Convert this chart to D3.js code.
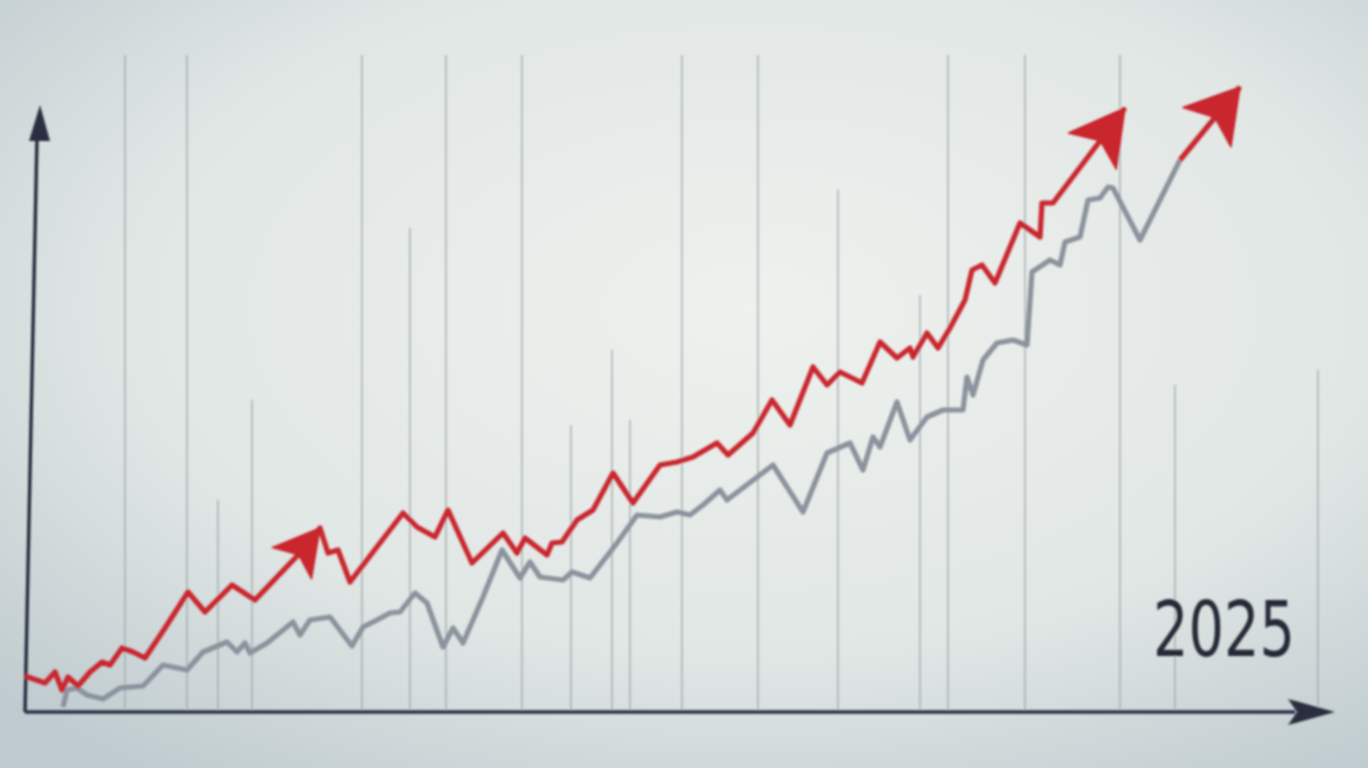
<!DOCTYPE html>
<html><head><meta charset="utf-8">
<script src="https://cdn.jsdelivr.net/npm/d3@7/dist/d3.min.js"></script>
<style>html,body{margin:0;padding:0;overflow:hidden;background:#dfe5e3}</style>
</head><body><svg id="c" width="1368" height="768"></svg>
<script>
// ---- data (x: time units, y: value units) ----
const redX = [0,2,3,3.7,4.3,5.3,6.5,7.7,8.5,9.7,10.8,12,14,16.3,18,20.7,23,27.5,29.5,
  30.3,31.3,32.5,37.8,39.2,41,42.3,44.7,47.8,49.2,50,52.2,52.7,53.7,55.2,56.8,58.8,60.8,63.5,65.2,66.8,69.2,70.3,72.8,74.7,76.5,78.8,80.2,81.5,83.7,85.5,87.2,88.5,88.8,90.2,91.3,92.5,94,94.7,95.7,97,99.5,101.5,101.7,102.8,110.0];
const redY = [3.6,2.9,4.0,2.2,3.5,2.6,4.0,5.0,4.7,6.4,6.0,5.4,8.4,12.0,10.0,12.7,11.2,15.9,18.4,
  15.9,16.2,13.0,19.9,18.5,17.5,20.2,14.9,17.9,15.9,17.4,15.7,16.9,17.0,19.2,20.2,23.9,20.9,24.7,25.0,25.5,26.9,25.7,27.9,31.2,28.7,34.5,32.7,34.0,32.9,37.0,35.4,36.4,35.5,37.9,36.4,38.4,41.2,44.2,44.7,42.9,48.9,47.5,50.9,50.9,60.4];
const redArrowAt = [18, 64];          // indices of red points that carry an arrowhead
const redX3 = [115.5,121.5];          // red continuation of the gray line
const redY3 = [55.2,62.5];
const grayX = [3.8,4.2,5.2,6.2,7.8,9.5,11.8,13.8,16.2,17.8,20.2,21.2,22,22.5,24.2,26.8,27.5,28.5,30.5,32.7,33.8,35.2,36.5,37.5,39,40.2,41.8,42.8,43.8,45.8,47.7,49.5,50.5,51.5,53.8,54.7,56.5,59.2,61.2,63.5,65.2,66.5,67.8,69.5,70.2,74.8,77.8,80.2,82.5,83.8,84.8,85.5,87.2,88.5,90.2,91.8,93.8,94.2,94.8,95.8,97.2,98.8,100.2,100.7,102.5,103.5,104,105.5,106.3,107.5,108.3,108.8,111.5,115.5];
const grayY = [0.5,2.2,2.4,1.7,1.3,2.4,2.6,4.7,4.2,6.0,7.0,6.0,6.9,5.9,6.9,9.0,7.7,9.2,9.5,6.6,8.5,9.2,9.9,10.0,11.9,10.9,6.5,8.4,6.9,11.5,16.2,13.4,15.0,13.5,13.2,14.0,13.4,16.9,19.7,19.5,20.0,19.7,20.7,22.2,21.2,24.7,20.0,25.9,26.9,24.2,27.5,26.5,31.0,27.2,29.5,30.2,30.2,33.5,31.7,35.2,36.9,37.2,36.7,44.0,45.2,44.7,47.0,47.5,51.2,51.4,52.5,52.4,47.2,55.2];
const gridX   = [10,16.2,19.3,22.7,33.7,38.5,42.1,49.7,54.6,58.7,60.5,65.7,73.3,81.3,89.5,92.3,100,109.5,115,129.3];
const gridTop = [65.7,65.7,21.2,31.2,65.7,48.4,65.7,65.7,28.7,36.2,29.2,65.7,65.7,52.2,41.7,65.7,65.7,65.7,32.7,34.2];
const yearLabel = "2025";

// ---- layout ----
const svg = d3.select("#c");
const W = 1368, H = 768;
const x = d3.scaleLinear().domain([0,130]).range([25,1325]);
const y = d3.scaleLinear().domain([0,65]).range([712,62]);

const defs = svg.append("defs");
const bg = defs.append("radialGradient").attr("id","bg").attr("cx","55%").attr("cy","40%").attr("r","75%");
bg.append("stop").attr("offset","0%").attr("stop-color","#eef1ee");
bg.append("stop").attr("offset","60%").attr("stop-color","#e1e7e5");
bg.append("stop").attr("offset","100%").attr("stop-color","#bfcbcf");
defs.append("filter").attr("id","blur").append("feGaussianBlur").attr("stdDeviation",1.0);

svg.append("rect").attr("width",W).attr("height",H).attr("fill","url(#bg)");
const g = svg.append("g").attr("filter","url(#blur)");

// grid lines
g.selectAll("line.grid").data(gridX).join("line")
  .attr("x1",d=>x(d)).attr("x2",d=>x(d))
  .attr("y1",y(0)).attr("y2",(d,i)=>y(gridTop[i]))
  .attr("stroke","#a3abad").attr("stroke-width",1.6).attr("opacity",0.85);

// axes
const axisCol = "#2a2e40";
g.append("line").attr("x1",x(0)).attr("y1",y(0)).attr("x2",x(127)).attr("y2",y(0))
  .attr("stroke",axisCol).attr("stroke-width",3.5);
g.append("path").attr("d",`M${x(131)},${y(0)} L${x(126.3)},${y(0)-13} L${x(127.2)},${y(0)} L${x(126.3)},${y(0)+13} Z`).attr("fill",axisCol);
g.append("line").attr("x1",x(0)).attr("y1",y(0)).attr("x2",x(1.2)).attr("y2",y(57.5))
  .attr("stroke",axisCol).attr("stroke-width",3.5);
g.append("path").attr("d",`M${x(1.5)},${y(60.7)} L${x(0.4)},${y(57.1)} L${x(2.5)},${y(57.1)} Z`).attr("fill",axisCol);

// lines
const line = d3.line().x(d=>x(d[0])).y(d=>y(d[1])).curve(d3.curveLinear);
const zip = (a,b)=>a.map((v,i)=>[v,b[i]]);
const red = "#c9252d", gray = "#8b939d";

g.append("path").datum(zip(grayX,grayY)).attr("d",line).attr("fill","none")
  .attr("stroke",gray).attr("stroke-width",5.2).attr("stroke-linejoin","round");

function arrowHead(a, b, len, half, col){
  const ax=x(a[0]), ay=y(a[1]), bx=x(b[0]), by=y(b[1]);
  const ang = Math.atan2(by-ay,bx-ax);
  const c=Math.cos(ang), s=Math.sin(ang);
  const P=(u,v)=>[bx+u*c-v*s, by+u*s+v*c];
  const p=[P(0,0),P(-len,-half),P(-len*0.76,0),P(-len,half)];
  g.append("path").attr("d","M"+p.map(q=>q.join(",")).join("L")+"Z").attr("fill",col)
    .attr("stroke",col).attr("stroke-width",1.5).attr("stroke-linejoin","round");
}
const redPts = zip(redX,redY);
g.append("path").datum(redPts).attr("d",line).attr("fill","none")
  .attr("stroke",red).attr("stroke-width",5.2).attr("stroke-linejoin","round");
const sizes = [[45,25],[54,30]];
redArrowAt.forEach((k,j)=>arrowHead(redPts[k-1],redPts[k],sizes[j][0],sizes[j][1],red));
const red3 = zip(redX3,redY3);
g.append("path").datum(red3).attr("d",line).attr("fill","none")
  .attr("stroke",red).attr("stroke-width",5.2).attr("stroke-linejoin","round");
arrowHead(red3[0],red3[1],52,31,red);

// year label
g.append("text").attr("x",x(112.8)).attr("y",y(0)-56).text(yearLabel)
  .attr("font-family","DejaVu Sans").attr("font-size",76).attr("fill","#262a38")
  .attr("textLength",142).attr("lengthAdjust","spacingAndGlyphs");
</script></body></html>
